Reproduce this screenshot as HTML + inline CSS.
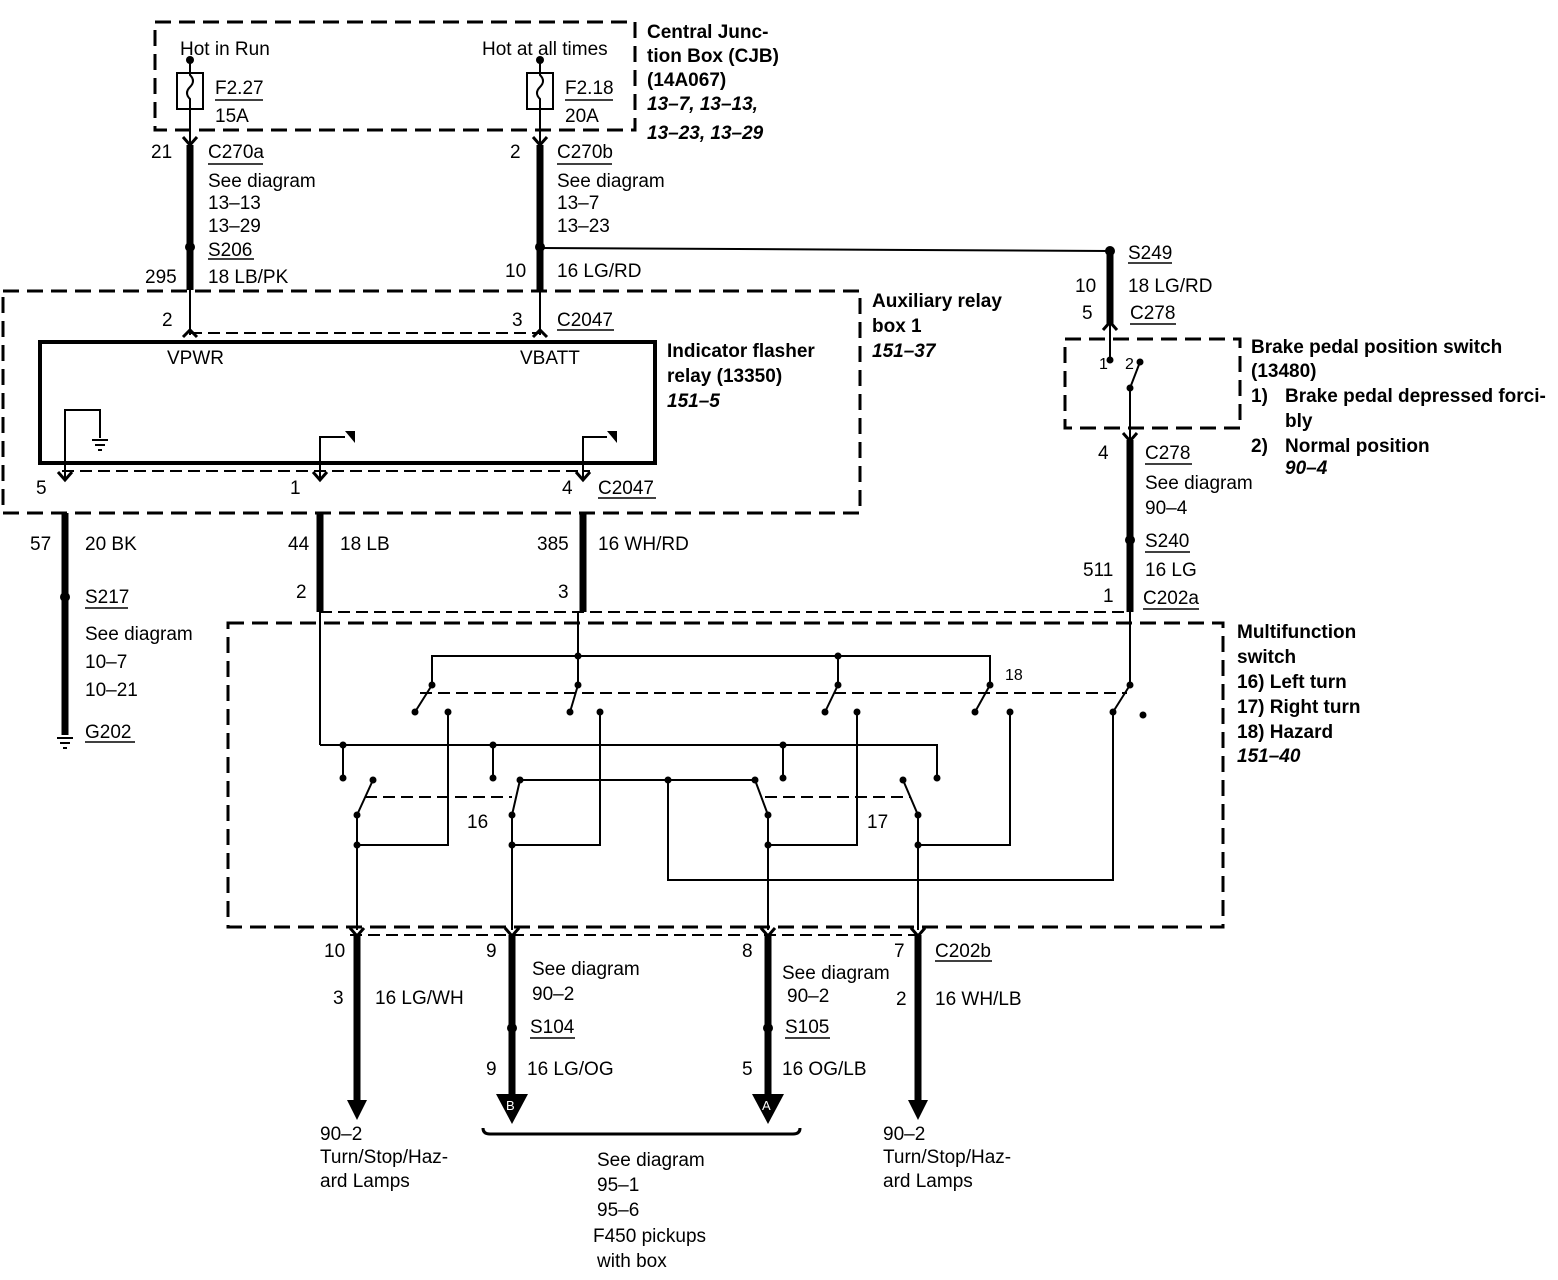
<!DOCTYPE html>
<html><head><meta charset="utf-8"><style>
html,body{margin:0;padding:0;background:#fff}
svg{display:block}
text{font-family:"Liberation Sans",Arial,sans-serif;font-size:19px;fill:#000}
.b{font-weight:bold}
.bi{font-weight:bold;font-style:italic}
</style></head><body>
<svg width="1558" height="1280" viewBox="0 0 1558 1280" xmlns="http://www.w3.org/2000/svg">
<g fill="none" stroke="#000">
<g stroke-width="3" stroke-dasharray="16,8">
<rect x="155" y="22" width="480" height="108"/>
<rect x="3" y="291" width="857" height="222"/>
<rect x="1065" y="339" width="175" height="89"/>
<rect x="228" y="623" width="995" height="304"/>
</g>
<g stroke-width="2" stroke-dasharray="12,6">
<line x1="190" y1="333" x2="540" y2="333"/>
<line x1="62" y1="471" x2="590" y2="471"/>
<line x1="320" y1="612" x2="1130" y2="612"/>
<line x1="350" y1="935" x2="925" y2="935"/>
<line x1="365" y1="797" x2="512" y2="797"/>
<line x1="765" y1="797" x2="910" y2="797"/>
<line x1="420" y1="693" x2="1127" y2="693"/>
</g>
<g stroke-width="2">
<rect x="177" y="73" width="26" height="36"/>
<path d="M190 60 V75 q6 6 0 12 q-6 6 0 12 V109"/>
<rect x="527" y="73" width="26" height="36"/>
<path d="M540 60 V75 q6 6 0 12 q-6 6 0 12 V109"/>
</g>
<g stroke-width="2">
<line x1="190" y1="109" x2="190" y2="145"/>
<line x1="540" y1="109" x2="540" y2="145"/>
<line x1="190" y1="290" x2="190" y2="335"/>
<line x1="540" y1="290" x2="540" y2="335"/>
<line x1="540" y1="248" x2="1110" y2="251"/>
<line x1="1110" y1="325" x2="1110" y2="360"/>
<path d="M1130 388 L1140 362"/>
<line x1="1130" y1="388" x2="1130" y2="440"/>
<line x1="1130" y1="612" x2="1130" y2="685"/>
<path d="M65 480 V410 H100 V438"/>
<path d="M320 480 V437 H345"/>
<path d="M583 480 V437 H607"/>
<line x1="320" y1="612" x2="320" y2="745"/>
<path d="M432 685 V656 H990 V685"/>
<line x1="578" y1="612" x2="578" y2="685"/>
<line x1="838" y1="656" x2="838" y2="685"/>
<path d="M432 685 L415 712 M578 685 L570 712 M838 685 L825 712 M990 685 L975 712 M1130 685 L1113 712"/>
<path d="M320 745 H937 V778"/>
<path d="M343 745 V778 M493 745 V778 M783 745 V778"/>
<path d="M357 815 L373 780 M512 815 L520 780 H755 L768 815 M918 815 L903 780"/>
<path d="M357 815 V930 M512 815 V930 M768 815 V930 M918 815 V930"/>
<path d="M357 845 H448 V712 M512 845 H600 V712 M768 845 H857 V712 M918 845 H1010 V712"/>
<path d="M668 780 V880 H1113 V712"/>
</g>
<g stroke-width="7">
<line x1="190" y1="145" x2="190" y2="290"/>
<line x1="540" y1="145" x2="540" y2="290"/>
<line x1="1110" y1="251" x2="1110" y2="325"/>
<line x1="1130" y1="440" x2="1130" y2="612"/>
<line x1="65" y1="513" x2="65" y2="735"/>
<line x1="320" y1="513" x2="320" y2="612"/>
<line x1="583" y1="513" x2="583" y2="612"/>
<line x1="357" y1="935" x2="357" y2="1100"/>
<line x1="512" y1="935" x2="512" y2="1095"/>
<line x1="768" y1="935" x2="768" y2="1095"/>
<line x1="918" y1="935" x2="918" y2="1100"/>
</g>
<rect x="40" y="342" width="615" height="121" stroke-width="4"/>
<g stroke-width="3">
<path d="M183 137 L190 145 L197 137 M533 137 L540 145 L547 137"/>
<path d="M183 337 L190 330 L197 337 M533 337 L540 330 L547 337"/>
<path d="M1103 330 L1110 322 L1117 330"/>
<path d="M1123 433 L1130 441 L1137 433"/>
<path d="M58 472 L65 480 L72 472 M313 472 L320 480 L327 472 M576 472 L583 480 L590 472"/>
<path d="M350 928 L357 936 L364 928 M505 928 L512 936 L519 928 M761 928 L768 936 L775 928 M911 928 L918 936 L925 928"/>
<path d="M483 1128 Q483 1134 490 1134 H793 Q800 1134 800 1128" stroke-width="3"/>
</g>
<g stroke-width="2">
<path d="M92 440 H108 M95 445 H105 M98 450 H102"/>
<path d="M57 738 H73 M60 743 H70 M63 748 H67"/>
</g>
</g>
<g fill="#000">
<polygon points="345,431 355,431 355,443"/>
<polygon points="607,431 617,431 617,443"/>
<polygon points="347,1100 367,1100 357,1120"/>
<polygon points="908,1100 928,1100 918,1120"/>
<polygon points="496,1094 528,1094 512,1124"/>
<polygon points="752,1094 784,1094 768,1124"/>
<circle cx="190" cy="60" r="4"/><circle cx="540" cy="60" r="4"/>
<circle cx="190" cy="247" r="5"/><circle cx="540" cy="247" r="5"/>
<circle cx="1110" cy="251" r="5"/><circle cx="1130" cy="540" r="5"/>
<circle cx="65" cy="597" r="5"/>
<circle cx="512" cy="1028" r="5"/><circle cx="768" cy="1028" r="5"/>
<circle cx="1110" cy="360" r="3.5"/><circle cx="1140" cy="362" r="3.5"/><circle cx="1130" cy="388" r="3.5"/>
<circle cx="578" cy="656" r="3.5"/><circle cx="838" cy="656" r="3.5"/>
<circle cx="432" cy="685" r="3.5"/><circle cx="578" cy="685" r="3.5"/><circle cx="838" cy="685" r="3.5"/><circle cx="990" cy="685" r="3.5"/><circle cx="1130" cy="685" r="3.5"/>
<circle cx="415" cy="712" r="3.5"/><circle cx="448" cy="712" r="3.5"/><circle cx="570" cy="712" r="3.5"/><circle cx="600" cy="712" r="3.5"/><circle cx="825" cy="712" r="3.5"/><circle cx="857" cy="712" r="3.5"/><circle cx="975" cy="712" r="3.5"/><circle cx="1010" cy="712" r="3.5"/><circle cx="1113" cy="712" r="3.5"/><circle cx="1143" cy="715" r="3.5"/>
<circle cx="343" cy="745" r="3.5"/><circle cx="493" cy="745" r="3.5"/><circle cx="783" cy="745" r="3.5"/>
<circle cx="343" cy="778" r="3.5"/><circle cx="493" cy="778" r="3.5"/><circle cx="783" cy="778" r="3.5"/><circle cx="937" cy="778" r="3.5"/>
<circle cx="373" cy="780" r="3.5"/><circle cx="520" cy="780" r="3.5"/><circle cx="668" cy="780" r="3.5"/><circle cx="755" cy="780" r="3.5"/><circle cx="903" cy="780" r="3.5"/>
<circle cx="357" cy="815" r="3.5"/><circle cx="512" cy="815" r="3.5"/><circle cx="768" cy="815" r="3.5"/><circle cx="918" cy="815" r="3.5"/>
<circle cx="357" cy="845" r="3.5"/><circle cx="512" cy="845" r="3.5"/><circle cx="768" cy="845" r="3.5"/><circle cx="918" cy="845" r="3.5"/>
</g>
<g stroke="#000" stroke-width="1.5">
<line x1="215" y1="100" x2="263" y2="100"/><line x1="565" y1="100" x2="613" y2="100"/>
<line x1="208" y1="164" x2="263" y2="164"/><line x1="557" y1="164" x2="612" y2="164"/>
<line x1="208" y1="259" x2="254" y2="259"/><line x1="1128" y1="263" x2="1172" y2="263"/>
<line x1="1130" y1="324" x2="1176" y2="324"/>
<line x1="557" y1="330" x2="614" y2="330"/><line x1="598" y1="498" x2="656" y2="498"/>
<line x1="1145" y1="464" x2="1192" y2="464"/><line x1="1145" y1="552" x2="1190" y2="552"/>
<line x1="1143" y1="609" x2="1199" y2="609"/>
<line x1="85" y1="608" x2="128" y2="608"/><line x1="85" y1="742" x2="135" y2="742"/>
<line x1="530" y1="1038" x2="575" y2="1038"/><line x1="785" y1="1038" x2="830" y2="1038"/>
<line x1="935" y1="961" x2="992" y2="961"/>
</g>
<text x="180" y="55">Hot in Run</text>
<text x="482" y="55">Hot at all times</text>
<text x="215" y="94">F2.27</text><text x="215" y="122">15A</text>
<text x="565" y="94">F2.18</text><text x="565" y="122">20A</text>
<text class="b" x="647" y="38">Central Junc-</text>
<text class="b" x="647" y="62">tion Box (CJB)</text>
<text class="b" x="647" y="86">(14A067)</text>
<text class="bi" x="647" y="110">13–7, 13–13,</text>
<text class="bi" x="647" y="139">13–23, 13–29</text>
<text x="151" y="158">21</text><text x="208" y="158">C270a</text>
<text x="208" y="187">See diagram</text><text x="208" y="209">13–13</text><text x="208" y="232">13–29</text>
<text x="208" y="256">S206</text>
<text x="145" y="283">295</text><text x="208" y="283">18 LB/PK</text>
<text x="510" y="158">2</text><text x="557" y="158">C270b</text>
<text x="557" y="187">See diagram</text><text x="557" y="209">13–7</text><text x="557" y="232">13–23</text>
<text x="505" y="277">10</text><text x="557" y="277">16 LG/RD</text>
<text x="1128" y="259">S249</text>
<text x="1075" y="292">10</text><text x="1128" y="292">18 LG/RD</text>
<text x="1082" y="319">5</text><text x="1130" y="319">C278</text>
<text class="b" x="872" y="307">Auxiliary relay</text>
<text class="b" x="872" y="332">box 1</text>
<text class="bi" x="872" y="357">151–37</text>
<text x="162" y="326">2</text><text x="512" y="326">3</text><text x="557" y="326">C2047</text>
<text x="167" y="364">VPWR</text><text x="520" y="364">VBATT</text>
<text class="b" x="667" y="357">Indicator flasher</text>
<text class="b" x="667" y="382">relay (13350)</text>
<text class="bi" x="667" y="407">151–5</text>
<text x="1099" y="369" style="font-size:16px">1</text><text x="1125" y="369" style="font-size:16px">2</text>
<text class="b" x="1251" y="353">Brake pedal position switch</text>
<text class="b" x="1251" y="377">(13480)</text>
<text class="b" x="1251" y="402">1)</text><text class="b" x="1285" y="402">Brake pedal depressed forci-</text>
<text class="b" x="1285" y="427">bly</text>
<text class="b" x="1251" y="452">2)</text><text class="b" x="1285" y="452">Normal position</text>
<text class="bi" x="1285" y="474">90–4</text>
<text x="1098" y="459">4</text><text x="1145" y="459">C278</text>
<text x="1145" y="489">See diagram</text><text x="1145" y="514">90–4</text>
<text x="1145" y="547">S240</text>
<text x="1083" y="576">511</text><text x="1145" y="576">16 LG</text>
<text x="1103" y="602">1</text><text x="1143" y="604">C202a</text>
<text x="36" y="494">5</text><text x="290" y="494">1</text><text x="562" y="494">4</text><text x="598" y="494">C2047</text>
<text x="30" y="550">57</text><text x="85" y="550">20 BK</text>
<text x="288" y="550">44</text><text x="340" y="550">18 LB</text>
<text x="537" y="550">385</text><text x="598" y="550">16 WH/RD</text>
<text x="85" y="603">S217</text>
<text x="85" y="640">See diagram</text><text x="85" y="668">10–7</text><text x="85" y="696">10–21</text>
<text x="85" y="738">G202</text>
<text x="296" y="598">2</text><text x="558" y="598">3</text>
<text class="b" x="1237" y="638">Multifunction</text>
<text class="b" x="1237" y="663">switch</text>
<text class="b" x="1237" y="688">16) Left turn</text>
<text class="b" x="1237" y="713">17) Right turn</text>
<text class="b" x="1237" y="738">18) Hazard</text>
<text class="bi" x="1237" y="762">151–40</text>
<text x="1005" y="680" style="font-size:16px">18</text>
<text x="467" y="828">16</text><text x="867" y="828">17</text>
<text x="324" y="957">10</text><text x="486" y="957">9</text><text x="742" y="957">8</text><text x="894" y="957">7</text><text x="935" y="957">C202b</text>
<text x="333" y="1004">3</text><text x="375" y="1004">16 LG/WH</text>
<text x="532" y="975">See diagram</text><text x="532" y="1000">90–2</text><text x="530" y="1033">S104</text>
<text x="782" y="979">See diagram</text><text x="787" y="1002">90–2</text><text x="785" y="1033">S105</text>
<text x="896" y="1005">2</text><text x="935" y="1005">16 WH/LB</text>
<text x="486" y="1075">9</text><text x="527" y="1075">16 LG/OG</text>
<text x="742" y="1075">5</text><text x="782" y="1075">16 OG/LB</text>
<text x="506" y="1110" style="font-size:13px;fill:#fff">B</text>
<text x="762" y="1110" style="font-size:13px;fill:#fff">A</text>
<text x="320" y="1140">90–2</text><text x="320" y="1163">Turn/Stop/Haz-</text><text x="320" y="1187">ard Lamps</text>
<text x="883" y="1140">90–2</text><text x="883" y="1163">Turn/Stop/Haz-</text><text x="883" y="1187">ard Lamps</text>
<text x="597" y="1166">See diagram</text><text x="597" y="1191">95–1</text><text x="597" y="1216">95–6</text>
<text x="593" y="1242">F450 pickups</text><text x="597" y="1267">with box</text>
</svg>
</body></html>
